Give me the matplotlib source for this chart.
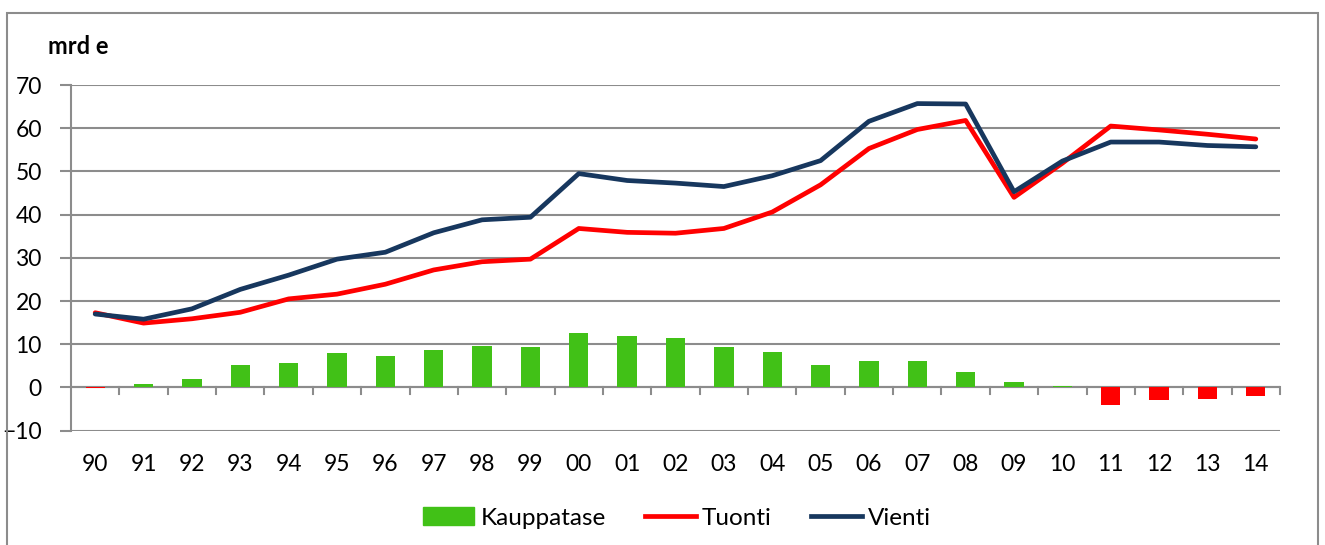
import matplotlib.pyplot as plt
import numpy as np
from matplotlib.patches import Rectangle, Patch
from matplotlib.lines import Line2D

plt.rcParams['font.family'] = ['Lato', 'DejaVu Sans']

# Vuodet ja sarjat (mrd e)
vuodet = ['90', '91', '92', '93', '94', '95', '96', '97', '98', '99', '00', '01', '02',
          '03', '04', '05', '06', '07', '08', '09', '10', '11', '12', '13', '14']
vienti = [17.0, 15.8, 18.2, 22.7, 26.0, 29.7, 31.3, 35.8, 38.8, 39.4, 49.5, 47.9, 47.3,
          46.5, 49.0, 52.5, 61.6, 65.7, 65.6, 45.3, 52.4, 56.8, 56.8, 56.0, 55.7]
tuonti = [17.3, 14.9, 15.9, 17.4, 20.5, 21.6, 23.9, 27.2, 29.1, 29.7, 36.8, 35.9, 35.7,
          36.8, 40.6, 46.9, 55.3, 59.7, 61.8, 44.0, 51.9, 60.5, 59.6, 58.6, 57.5]
kauppatase = [-0.2, 0.8, 2.0, 5.1, 5.6, 7.9, 7.4, 8.6, 9.6, 9.4, 12.5, 11.8, 11.5,
              9.4, 8.1, 5.3, 6.1, 6.1, 3.6, 1.3, 0.4, -4.0, -2.8, -2.6, -1.9]

vihrea = '#41C117'
punainen = '#FF0000'
sininen = '#17375E'
harmaa = '#8C8C8C'

fig = plt.figure(figsize=(13.25, 5.45), dpi=100)
ax = fig.add_axes([71 / 1325, 1 - 430.7 / 545, (1280 - 71) / 1325, (430.7 - 85) / 545])

x = np.arange(len(vuodet))
varit = [vihrea if v >= 0 else punainen for v in kauppatase]
ax.bar(x, kauppatase, width=0.4, color=varit, zorder=2)
ax.plot(x, tuonti, color=punainen, lw=3.4, solid_capstyle='round', solid_joinstyle='round', zorder=3)
ax.plot(x, vienti, color=sininen, lw=3.4, solid_capstyle='round', solid_joinstyle='round', zorder=4)

ax.set_xlim(-0.5, len(vuodet) - 0.5)
ax.set_ylim(-10, 70)
ax.set_yticks(range(-10, 71, 10))
ax.yaxis.grid(True, color=harmaa, lw=1.5, zorder=0)
ax.set_axisbelow(True)

# nolla-akseli ja luokkarajojen väkäset
ax.axhline(0, color=harmaa, lw=1.5, zorder=1)
for b in np.arange(0.5, len(vuodet), 1.0):
    ax.plot([b, b], [0, -1.4], color=harmaa, lw=1.5, zorder=1, clip_on=False)

for s in ['top', 'right', 'bottom']:
    ax.spines[s].set_visible(False)
ax.spines['left'].set_color(harmaa)
ax.spines['left'].set_linewidth(1.5)

ax.set_xticks(x)
ax.set_xticklabels(vuodet)
ax.tick_params(axis='x', length=0, pad=17, labelsize=16.5)
ax.tick_params(axis='y', length=8, width=1.5, color=harmaa, pad=13, labelsize=16.5)

fig.text(48 / 1325, 1 - 46 / 545, 'mrd e', fontsize=17, fontweight='bold', va='center', ha='left')

kahvat = [Patch(color=vihrea), Line2D([], [], color=punainen, lw=3.4),
          Line2D([], [], color=sininen, lw=3.4)]
fig.legend(kahvat, ['Kauppatase', 'Tuonti', 'Vienti'], loc='center',
           bbox_to_anchor=(0.511, 1 - 518 / 545), ncol=3, frameon=False, fontsize=17.5,
           handlelength=2.1, handletextpad=0.25, columnspacing=1.6)

# kehys
fig.patches.append(Rectangle((7 / 1325, -0.1), (1318 - 7) / 1325, 1.1 - 13 / 545,
                             transform=fig.transFigure, fill=False, edgecolor=harmaa, lw=1.5))

fig.savefig('out.png', dpi=100)
